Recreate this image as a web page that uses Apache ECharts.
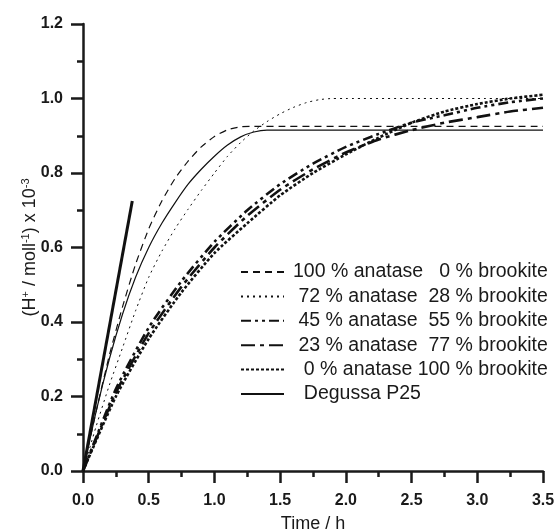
<!DOCTYPE html>
<html>
<head>
<meta charset="utf-8">
<script src="https://cdn.jsdelivr.net/npm/echarts@6/dist/echarts.min.js"></script>
<style>html,body{margin:0;padding:0;background:#fff}#c{width:558px;height:530px}</style>
</head>
<body>
<div id="c"></div>
<script>
// ---- data ----
var seriesNames = [
  "100 % anatase   0 % brookite",
  " 72 % anatase  28 % brookite",
  " 45 % anatase  55 % brookite",
  " 23 % anatase  77 % brookite",
  "  0 % anatase 100 % brookite",
  "  Degussa P25"
];
var xTickLabels = ["0.0","0.5","1.0","1.5","2.0","2.5","3.0","3.5"];
var yTickLabels = ["0.0","0.2","0.4","0.6","0.8","1.0","1.2"];

var tA100 = [0,0.1,0.2,0.3,0.4,0.5,0.6,0.7,0.8,0.9,1.0,1.1,1.2,1.3,1.5,2.0,2.5,3.0,3.5];
var vA100 = [0,0.16,0.31,0.44,0.555,0.65,0.725,0.785,0.832,0.87,0.898,0.916,0.924,0.925,0.925,0.925,0.925,0.925,0.925];

var tA72 = [0,0.1,0.2,0.3,0.4,0.5,0.6,0.7,0.8,0.9,1.0,1.1,1.2,1.3,1.4,1.5,1.6,1.7,1.8,1.9,2.0,2.5,3.0,3.5];
var vA72 = [0,0.12,0.23,0.33,0.43,0.52,0.59,0.65,0.703,0.753,0.80,0.845,0.882,0.913,0.938,0.959,0.976,0.989,0.997,1.0,1.0,1.0,1.0,1.0];

var tB = [0,0.25,0.5,0.75,1.0,1.25,1.5,1.75,2.0,2.25,2.5,2.75,3.0,3.25,3.5];
var vA45 = [0,0.22,0.385,0.51,0.615,0.70,0.77,0.825,0.87,0.905,0.935,0.955,0.975,0.99,1.0];
var vA23 = [0,0.21,0.37,0.495,0.60,0.685,0.755,0.81,0.855,0.89,0.915,0.935,0.95,0.965,0.975];
var vA0  = [0,0.20,0.355,0.48,0.585,0.665,0.74,0.80,0.85,0.895,0.935,0.965,0.985,1.0,1.01];

var tP25 = [0,0.1,0.2,0.3,0.4,0.5,0.6,0.7,0.8,0.9,1.0,1.1,1.2,1.3,1.4,1.5,2.0,2.5,3.0,3.5];
var vP25 = [0,0.16,0.30,0.42,0.52,0.60,0.665,0.72,0.77,0.81,0.845,0.875,0.897,0.91,0.915,0.915,0.915,0.915,0.915,0.915];

var tTangent = [0,0.375];
var vTangent = [0,0.725];

function pairs(t, v){ return t.map(function(x,i){ return [x, v[i]]; }); }

var FONT = "Liberation Sans";
var chart = echarts.init(document.getElementById('c'), null, {renderer:'canvas'});

function lineSeries(name, t, v, width, dash){
  return {
    name: name, type: 'line', data: pairs(t, v), symbol: 'none',
    smooth: 0.2, animation: false,
    itemStyle: {color: '#111', opacity: 0},
    lineStyle: {color: '#111', width: width, type: dash}
  };
}

var option = {
  animation: false,
  backgroundColor: '#fff',
  grid: {left: 83, right: 15, top: 24, bottom: 59, containLabel: false, outerBoundsMode: 'none'},
  xAxis: {
    type: 'value', min: 0, max: 3.5, interval: 0.5,
    name: 'Time / h', nameLocation: 'middle', nameGap: 44, nameMoveOverlap: false,
    nameTextStyle: {fontFamily: FONT, fontSize: 18, color: '#1a1a1a'},
    axisLine: {lineStyle: {color: '#1a1a1a', width: 2.5}},
    axisTick: {length: 12, lineStyle: {width: 2.5, color: '#1a1a1a'}},
    minorTick: {show: true, splitNumber: 2, length: 6, lineStyle: {width: 2.5, color: '#1a1a1a'}},
    splitLine: {show: false},
    axisLabel: {margin: 22, fontFamily: FONT, fontSize: 16, fontWeight: 'bold', color: '#1a1a1a',
      formatter: function(val){ return xTickLabels[Math.round(val/0.5)]; }}
  },
  yAxis: {
    type: 'value', min: 0, max: 1.2, interval: 0.2,
    name: '(H{sup|+} / moll{sup|-1}) x 10{sup|-3}', nameLocation: 'middle', nameGap: 43, nameRotate: 90,
    nameMoveOverlap: false,
    nameTextStyle: {fontFamily: FONT, fontSize: 18, color: '#1a1a1a',
      rich: {sup: {fontFamily: FONT, fontSize: 11, color: '#1a1a1a', padding: [0,0,9,0]}}},
    axisLine: {lineStyle: {color: '#1a1a1a', width: 2.5}},
    axisTick: {length: 12, lineStyle: {width: 2.5, color: '#1a1a1a'}},
    minorTick: {show: true, splitNumber: 2, length: 6, lineStyle: {width: 2.5, color: '#1a1a1a'}},
    splitLine: {show: false},
    axisLabel: {margin: 20, fontFamily: FONT, fontSize: 16, fontWeight: 'bold', color: '#1a1a1a',
      formatter: function(val){ return yTickLabels[Math.round(val/0.2)]; }}
  },
  legend: {
    orient: 'vertical', left: 240, top: 262, padding: 0,
    itemWidth: 43, itemHeight: 14, itemGap: 4.4,
    data: seriesNames,
    itemStyle: {opacity: 0, borderWidth: 0},
    textStyle: {fontFamily: FONT, fontSize: 19.5, color: '#1a1a1a', lineHeight: 20, padding: [0,0,0,4]}
  },
  series: [
    lineSeries(seriesNames[0], tA100, vA100, 1.2, [7,5]),
    lineSeries(seriesNames[1], tA72, vA72, 1, [2,4]),
    lineSeries(seriesNames[2], tB, vA45, 2.6, [10,4,3,4,3,4]),
    lineSeries(seriesNames[3], tB, vA23, 2.6, [14,5,4,5]),
    lineSeries(seriesNames[4], tB, vA0, 2.6, [3,2]),
    lineSeries(seriesNames[5], tP25, vP25, 1.2, 'solid'),
    {name: 'tangent', type: 'line', data: pairs(tTangent, vTangent), symbol: 'none',
     lineStyle: {color: '#111', width: 3}, animation: false}
  ]
};
chart.setOption(option);
</script>
</body>
</html>
